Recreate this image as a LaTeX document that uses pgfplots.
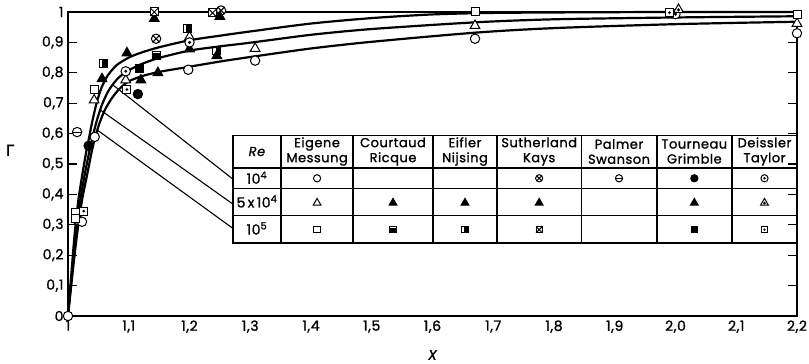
\documentclass[border=0pt]{standalone}
\usepackage{fontspec}
\setmainfont{Poppins}[LetterSpace=4, FakeBold=1.3]
\newfontfamily\greekfont{DejaVu Sans}[FakeBold=1.5]
\usepackage{pgfplots}
\pgfplotsset{compat=1.18}
\usetikzlibrary{plotmarks}

% ---- extra plot marks for the different data sources ----
\pgfdeclareplotmark{o-}{% circle with horizontal bar
  \pgfpathcircle{\pgfpointorigin}{\pgfplotmarksize}\pgfusepathqfillstroke
  \pgfpathmoveto{\pgfqpoint{-\pgfplotmarksize}{0pt}}%
  \pgfpathlineto{\pgfqpoint{\pgfplotmarksize}{0pt}}\pgfusepathqstroke}
\pgfdeclareplotmark{o.}{% circle with centre dot
  \pgfpathcircle{\pgfpointorigin}{\pgfplotmarksize}\pgfusepathqfillstroke
  \pgfpathcircle{\pgfpointorigin}{0.2\pgfplotmarksize}\pgfusepathqstroke}
\pgfdeclareplotmark{sq.}{% square with centre dot
  \pgfpathrectangle{\pgfqpoint{-\pgfplotmarksize}{-\pgfplotmarksize}}{\pgfqpoint{2\pgfplotmarksize}{2\pgfplotmarksize}}\pgfusepathqfillstroke
  \pgfpathcircle{\pgfpointorigin}{0.2\pgfplotmarksize}\pgfusepathqstroke}
\pgfdeclareplotmark{sqx}{% square with diagonals
  \pgfpathrectangle{\pgfqpoint{-\pgfplotmarksize}{-\pgfplotmarksize}}{\pgfqpoint{2\pgfplotmarksize}{2\pgfplotmarksize}}\pgfusepathqfillstroke
  \pgfpathmoveto{\pgfqpoint{-\pgfplotmarksize}{-\pgfplotmarksize}}\pgfpathlineto{\pgfqpoint{\pgfplotmarksize}{\pgfplotmarksize}}%
  \pgfpathmoveto{\pgfqpoint{-\pgfplotmarksize}{\pgfplotmarksize}}\pgfpathlineto{\pgfqpoint{\pgfplotmarksize}{-\pgfplotmarksize}}%
  \pgfusepathqstroke}
\pgfdeclareplotmark{tri.}{% triangle with centre dot
  \pgfpathmoveto{\pgfqpoint{0pt}{\pgfplotmarksize}}%
  \pgfpathlineto{\pgfqpoint{-0.866\pgfplotmarksize}{-0.5\pgfplotmarksize}}%
  \pgfpathlineto{\pgfqpoint{0.866\pgfplotmarksize}{-0.5\pgfplotmarksize}}%
  \pgfpathclose\pgfusepathqfillstroke
  \pgfpathcircle{\pgfqpoint{0pt}{-0.05\pgfplotmarksize}}{0.18\pgfplotmarksize}\pgfusepathqstroke}
\pgfdeclareplotmark{sqlow}{% square, lower part filled
  \pgfpathrectangle{\pgfqpoint{-\pgfplotmarksize}{-\pgfplotmarksize}}{\pgfqpoint{2\pgfplotmarksize}{2\pgfplotmarksize}}\pgfusepathqstroke
  \pgfpathrectangle{\pgfqpoint{-\pgfplotmarksize}{-\pgfplotmarksize}}{\pgfqpoint{2\pgfplotmarksize}{1.3\pgfplotmarksize}}\pgfusepathqfillstroke}
\pgfdeclareplotmark{sqright}{% square, right half filled
  \pgfpathrectangle{\pgfqpoint{-\pgfplotmarksize}{-\pgfplotmarksize}}{\pgfqpoint{2\pgfplotmarksize}{2\pgfplotmarksize}}\pgfusepathqstroke
  \pgfpathrectangle{\pgfqpoint{-0.1\pgfplotmarksize}{-\pgfplotmarksize}}{\pgfqpoint{1.1\pgfplotmarksize}{2\pgfplotmarksize}}\pgfusepathqfillstroke}

\tikzset{
  keyline/.style={line width=1.1bp, black},
  keyhead/.style={font=\fontsize{13bp}{15bp}\selectfont, align=center, inner sep=0pt},
  keyrow/.style={font=\fontsize{14bp}{15bp}\selectfont, inner sep=0pt},
}
\pgfplotsset{
  mw/.style={only marks, mark options={solid, draw=black, line width=1bp, fill=white}},
  mb/.style={only marks, mark options={solid, draw=black, line width=1bp, fill=black}},
  eigO/.style={mw, mark=*, mark size=4.7bp},
  eigT/.style={mw, mark=triangle*, mark size=5.6bp},
  eigS/.style={mw, mark=square*, mark size=4bp},
  courT/.style={mb, mark=triangle*, mark size=5.6bp},
  courS/.style={mb, mark=sqlow, mark size=4bp},
  eifT/.style={mb, mark=triangle*, mark size=5.6bp},
  eifS/.style={mb, mark=sqright, mark size=4bp},
  sutO/.style={mw, mark=otimes*, mark size=4.7bp},
  sutT/.style={mb, mark=triangle*, mark size=5.6bp},
  sutS/.style={mw, mark=sqx, mark size=4bp},
  palO/.style={mw, mark=o-, mark size=4.7bp},
  touO/.style={mb, mark=*, mark size=4.7bp},
  touT/.style={mb, mark=triangle*, mark size=5.6bp},
  touS/.style={mb, mark=square*, mark size=4bp},
  deiO/.style={mw, mark=o., mark size=4.7bp},
  deiT/.style={mw, mark=tri., mark size=5.6bp},
  deiS/.style={mw, mark=sq., mark size=4bp},
  curve/.style={no marks, smooth, tension=0.45, line width=2.2bp, black},
}

\begin{document}
\begin{tikzpicture}
\begin{axis}[
  at={(0,0)}, anchor=south west,
  width=729bp, height=304bp, scale only axis,
  xmin=1, xmax=2.2, ymin=0, ymax=1,
  clip=false,
  axis line style={line width=1.4bp},
  xtick={1,1.1,1.2,1.3,1.4,1.5,1.6,1.7,1.8,1.9,2.0,2.1,2.2},
  xticklabels={1,{1,1},{1,2},{1,3},{1,4},{1,5},{1,6},{1,7},{1,8},{1,9},{2,0},{2,1},{2,2}},
  ytick={0,0.1,0.2,0.3,0.4,0.5,0.6,0.7,0.8,0.9,1},
  yticklabels={0,{0,1},{0,2},{0,3},{0,4},{0,5},{0,6},{0,7},{0,8},{0,9},1},
  tick align=inside,
  major tick length=9bp,
  x tick style={draw=none},
  y tick style={line width=1.1bp, black},
  ticklabel style={font=\fontsize{14bp}{15bp}\selectfont},
  xticklabel style={yshift=-1bp},
  yticklabel style={xshift=-1bp},
  xlabel={\itshape X},
  xlabel style={at={(rel axis cs:0.5,0)}, anchor=center, yshift=-39bp, font=\fontsize{14bp}{16bp}\selectfont},
  ylabel={\greekfont Γ},
  ylabel style={at={(rel axis cs:0,0.545)}, rotate=-90, anchor=center, xshift=-58bp, font=\fontsize{15bp}{17bp}\selectfont},
]

% ---- fitted curves, Re = 1e5 (top), 5e4 (middle), 1e4 (bottom) ----
\addplot[curve] coordinates {
  (1.000,0.00) (1.006,0.15) (1.011,0.27) (1.017,0.38) (1.024,0.47) (1.030,0.54)
  (1.035,0.59) (1.040,0.64) (1.047,0.70) (1.055,0.75) (1.065,0.79) (1.080,0.825)
  (1.100,0.850) (1.120,0.866) (1.150,0.884) (1.200,0.907) (1.250,0.922) (1.300,0.936)
  (1.400,0.962) (1.500,0.980) (1.600,0.992) (1.700,0.997) (1.850,0.999) (2.000,1.000) (2.200,1.000)};
\addplot[curve] coordinates {
  (1.000,0.00) (1.007,0.15) (1.013,0.27) (1.020,0.38) (1.028,0.47) (1.035,0.54)
  (1.040,0.585) (1.047,0.64) (1.055,0.69) (1.065,0.735) (1.075,0.765) (1.085,0.787)
  (1.100,0.808) (1.120,0.828) (1.150,0.849) (1.200,0.873) (1.250,0.887) (1.300,0.899)
  (1.400,0.925) (1.500,0.944) (1.670,0.966) (1.800,0.976) (2.000,0.982) (2.200,0.986)};
\addplot[curve] coordinates {
  (1.000,0.00) (1.008,0.15) (1.015,0.27) (1.023,0.38) (1.032,0.47) (1.039,0.54)
  (1.045,0.59) (1.052,0.635) (1.060,0.675) (1.070,0.71) (1.080,0.737) (1.090,0.757)
  (1.100,0.772) (1.120,0.788) (1.150,0.803) (1.200,0.820) (1.250,0.837) (1.300,0.852)
  (1.400,0.880) (1.500,0.902) (1.670,0.932) (1.800,0.947) (2.000,0.960) (2.200,0.968)};

% ---- leader lines to the key ----
\addplot[no marks, keyline] coordinates {(1.074,0.760) (1.2716,0.450)};
\addplot[no marks, keyline] coordinates {(1.053,0.678) (1.2716,0.368)};
\addplot[no marks, keyline] coordinates {(1.048,0.612) (1.2716,0.288)};

% ---- measured points ----
\addplot[eigO] coordinates {(1.0,0.0) (1.016,0.316) (1.023,0.31) (1.044,0.589) (1.198,0.81) (1.308,0.84) (1.67,0.912) (2.2,0.93)};
\addplot[eigT] coordinates {(1.043,0.71) (1.095,0.776) (1.2,0.918) (1.308,0.88) (1.67,0.955) (2.2,0.962)};
\addplot[eigS] coordinates {(1.013,0.342) (1.012,0.322) (1.044,0.745) (1.67,1.0) (2.2,0.993)};
\addplot[courT] coordinates {(1.148,0.80)};
\addplot[courS] coordinates {(1.145,0.858)};
\addplot[eifT] coordinates {(1.097,0.865) (1.245,0.856)};
\addplot[eifS] coordinates {(1.058,0.83) (1.196,0.947) (1.245,0.872)};
\addplot[sutO] coordinates {(1.145,0.912) (1.252,1.005)};
\addplot[sutT] coordinates {(1.142,0.978) (1.25,0.985)};
\addplot[sutS] coordinates {(1.142,1.0) (1.238,0.997)};
\addplot[palO] coordinates {(1.015,0.605)};
\addplot[touO] coordinates {(1.115,0.73) (1.034,0.56)};
\addplot[touT] coordinates {(1.12,0.776) (1.056,0.78) (1.2,0.878)};
\addplot[touS] coordinates {(1.118,0.815)};
\addplot[deiO] coordinates {(1.095,0.805) (2.0,0.993) (1.2,0.9)};
\addplot[deiT] coordinates {(2.005,1.008)};
\addplot[deiS] coordinates {(1.097,0.745) (1.99,0.998) (1.026,0.345)};

% ---- key table: frame, row and column rules ----
\draw[keyline] (axis cs:1.2716,0.595) rectangle (axis cs:2.2,0.240);
\draw[keyline] (axis cs:1.2716,0.487) -- (axis cs:2.2,0.487);
\draw[keyline] (axis cs:1.2716,0.418) -- (axis cs:2.2,0.418);
\draw[keyline] (axis cs:1.2716,0.332) -- (axis cs:2.2,0.332);
\draw[keyline] (axis cs:1.3506,0.595) -- (axis cs:1.3506,0.240);
\draw[keyline] (axis cs:1.4691,0.595) -- (axis cs:1.4691,0.240);
\draw[keyline] (axis cs:1.6008,0.595) -- (axis cs:1.6008,0.240);
\draw[keyline] (axis cs:1.7062,0.595) -- (axis cs:1.7062,0.240);
\draw[keyline] (axis cs:1.8450,0.595) -- (axis cs:1.8450,0.240);
\draw[keyline] (axis cs:1.9696,0.595) -- (axis cs:1.9696,0.240);
\draw[keyline] (axis cs:2.0930,0.595) -- (axis cs:2.0930,0.240);

\node[keyhead] at (axis cs:1.311,0.541) {\itshape Re};
\node[keyhead] at (axis cs:1.410,0.541) {Eigene\\Messung};
\node[keyhead] at (axis cs:1.535,0.541) {Courtaud\\Ricque};
\node[keyhead] at (axis cs:1.6535,0.541) {Eifler\\Nijsing};
\node[keyhead] at (axis cs:1.7756,0.541) {Sutherland\\Kays};
\node[keyhead] at (axis cs:1.907,0.541) {Palmer\\Swanson};
\node[keyhead] at (axis cs:2.031,0.541) {Tourneau\\Grimble};
\node[keyhead] at (axis cs:2.1465,0.541) {Deissler\\Taylor};
\node[keyrow] at (axis cs:1.311,0.455) {10\textsuperscript{4}};
\node[keyrow] at (axis cs:1.311,0.377) {5\,x\,10\textsuperscript{4}};
\node[keyrow] at (axis cs:1.311,0.288) {10\textsuperscript{5}};

% key symbols, row Re = 1e4
\addplot[eigO, mark size=3.6bp] coordinates {(1.410,0.453)};
\addplot[sutO, mark size=3.6bp] coordinates {(1.7756,0.453)};
\addplot[palO, mark size=3.6bp] coordinates {(1.907,0.453)};
\addplot[touO, mark size=3.6bp] coordinates {(2.031,0.453)};
\addplot[deiO, mark size=3.6bp] coordinates {(2.1465,0.453)};
% row Re = 5e4
\addplot[eigT, mark size=4.5bp] coordinates {(1.410,0.372)};
\addplot[courT, mark size=4.5bp] coordinates {(1.535,0.372)};
\addplot[eifT, mark size=4.5bp] coordinates {(1.6535,0.372)};
\addplot[sutT, mark size=4.5bp] coordinates {(1.7756,0.372)};
\addplot[touT, mark size=4.5bp] coordinates {(2.031,0.372)};
\addplot[deiT, mark size=4.5bp] coordinates {(2.1465,0.372)};
% row Re = 1e5
\addplot[eigS, mark size=3.1bp] coordinates {(1.410,0.284)};
\addplot[courS, mark size=3.1bp] coordinates {(1.535,0.284)};
\addplot[eifS, mark size=3.1bp] coordinates {(1.6535,0.284)};
\addplot[sutS, mark size=3.1bp] coordinates {(1.7756,0.284)};
\addplot[touS, mark size=3.1bp] coordinates {(2.031,0.284)};
\addplot[deiS, mark size=3.1bp] coordinates {(2.1465,0.284)};
\end{axis}
\pgfresetboundingbox
\path (-68bp,-48bp) rectangle (741bp,316bp);
\end{tikzpicture}
\end{document}
